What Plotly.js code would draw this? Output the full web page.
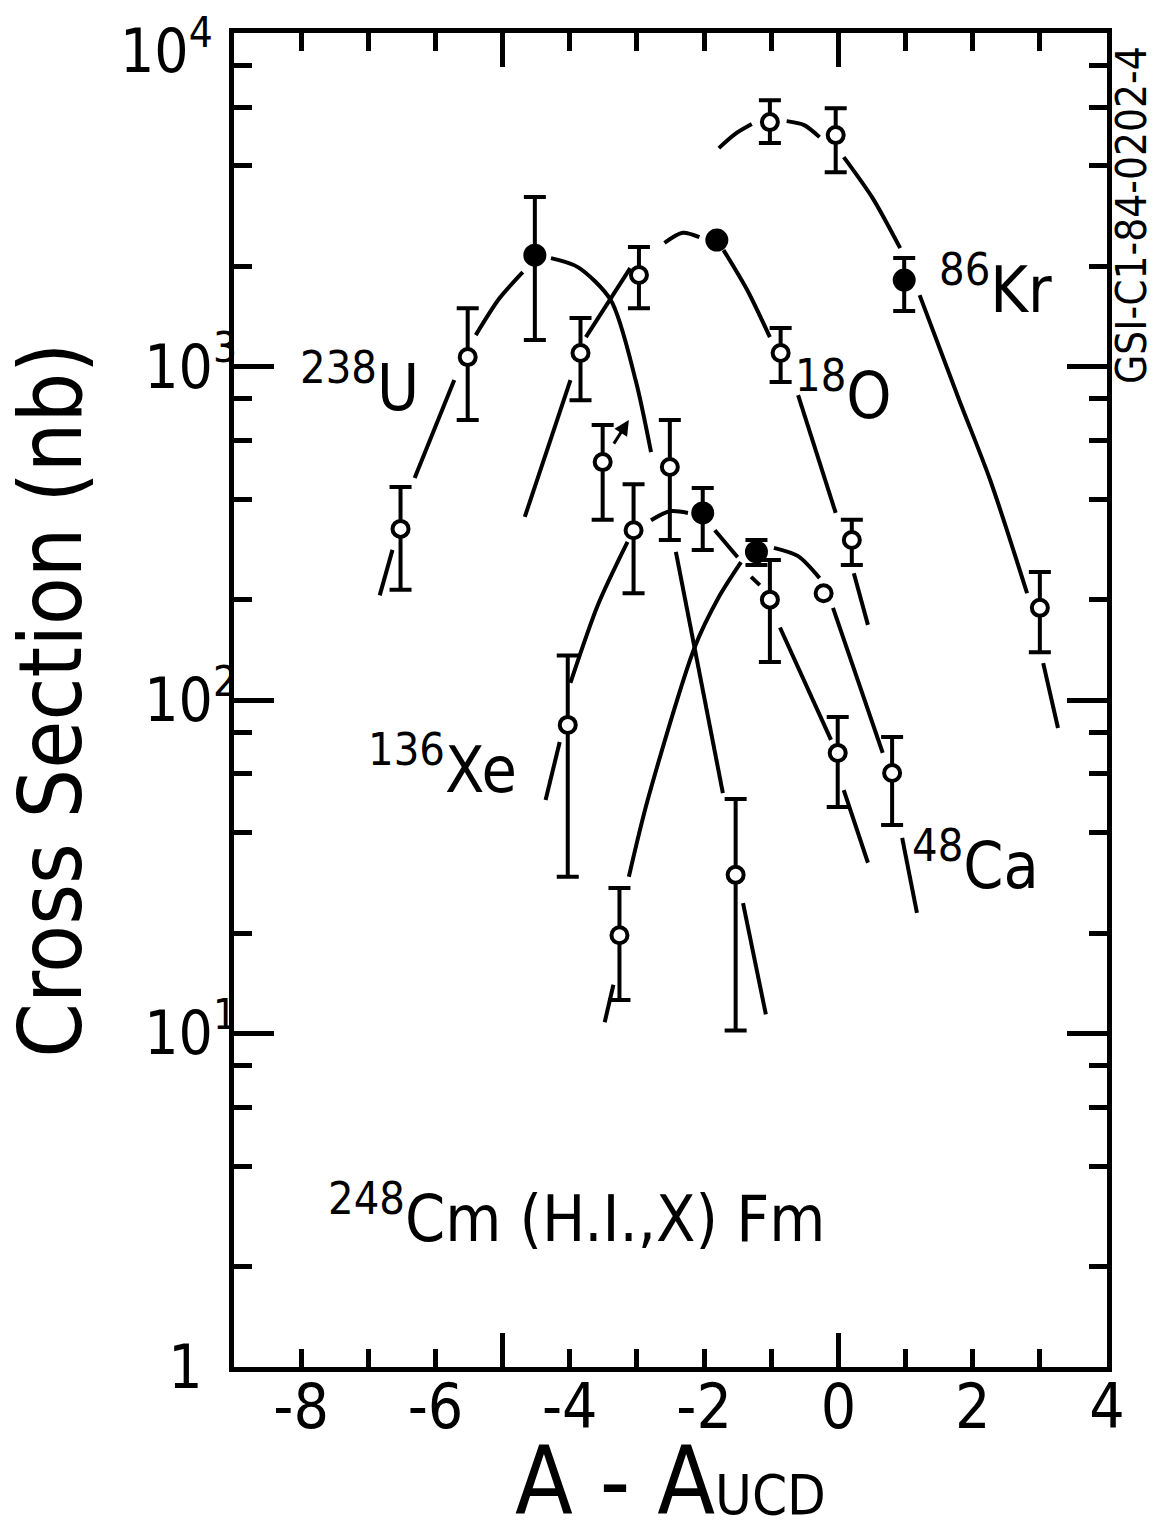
<!DOCTYPE html>
<html>
<head>
<meta charset="utf-8">
<script src="https://cdn.plot.ly/plotly-3.0.1.min.js"></script>
<style>html,body{margin:0;padding:0;background:#fff;}#chart{width:1161px;height:1536px;}</style>
</head>
<body>
<div id="chart"></div>
<script>
// ---------- data ----------
// axis ticks and tick labels
const xTickVals = [-8, -6, -4, -2, 0, 2, 4];
const xTickText = ['-8', '-6', '-4', '-2', '0', '2', '4'];
const xMinorTicks = [-7, -5, -3, -1, 1, 3];
const xLongTicks = [-5, 0];
const yTickVals = [1, 10, 100, 1000];
const yTickText = ['1\u2007', '10<sup>1</sup>', '10<sup>2</sup>', '10<sup>3</sup>'];
const yTopTickVal = 10000;
const yTopTickText = '10<sup>4</sup>';
const yMinorTicks = [2, 4, 6, 8, 20, 40, 60, 80, 200, 400, 600, 800, 2000, 4000, 6000, 8000];

// 238U
const u238X = [-6.52, -5.52, -4.52, -3.51, -2.51, -1.53];
const u238Y = [326, 1068, 2159, 517, 500, 29.9];
const u238Hi = [435, 1497, 3223, 668, 691, 50.5];
const u238Lo = [214, 691, 1201, 347, 302, 10.2];
const u238Solid = [0, 0, 1, 0, 0, 0];
const u238CurveX = [-6.83, -6.64, null, -6.31, -5.72, null, -5.40, -5.05, -4.70, null, -4.28, -3.88, -3.39, -3.02, -2.79, null, -2.42, -1.72, null, -1.42, -1.08];
const u238CurveY = [206, 282, null, 463, 911, null, 1243, 1600, 1920, null, 2115, 1988, 1583, 911, 554, null, 278, 52.6, null, 24.6, 11.4];

// 18O
const o18X = [-3.84, -2.97, -1.81, -0.86, 0.20];
const o18Y = [1098, 1882, 2395, 1098, 302];
const o18Hi = [1398, 2282, null, 1305, 347];
const o18Lo = [793, 1497, null, 899, 254];
const o18Solid = [0, 0, 1, 0, 0];
const o18CurveX = [-4.67, -3.99, null, -3.76, -3.10, null, -2.59, -2.32, -2.07, null, -1.71, -1.36, -1.02, null, -0.60, -0.04, null, 0.23, 0.44];
const o18CurveY = [354, 911, null, 1226, 1974, null, 2350, 2520, 2445, null, 2235, 1700, 1226, null, 821, 364, null, 240, 168];

// 86Kr
const kr86X = [-1.02, -0.04, 0.98, 3.00];
const kr86Y = [5410, 4946, 1817, 189];
const kr86Hi = [6297, 5959, 2115, 242];
const kr86Lo = [4680, 3830, 1467, 139];
const kr86Solid = [0, 0, 1, 0];
const kr86CurveX = [-1.78, -1.54, -1.29, null, -0.77, -0.51, -0.28, null, 0.08, 0.51, 0.92, null, 1.21, 1.80, 2.26, 2.81, null, 3.05, 3.27];
const kr86CurveY = [4521, 4980, 5336, null, 5447, 5300, 4878, null, 4248, 3201, 2266, null, 1638, 793, 457, 209, null, 129, 82.4];

// 136Xe
const xe136X = [-4.03, -3.05, -2.02, -1.02, -0.01];
const xe136Y = [84.2, 323, 364, 200, 69.4];
const xe136Hi = [136, 444, 432, 263, 88.9];
const xe136Lo = [29.5, 209, 282, 130, 47.8];
const xe136Solid = [0, 0, 1, 0, 0];
const xe136CurveX = [-4.36, -4.15, null, -3.99, -3.58, -3.14, null, -2.79, -2.51, -2.24, null, -1.84, -1.50, null, -1.30, -1.17, null, -0.87, -0.11, null, 0.08, 0.44];
const xe136CurveY = [50.1, 74.8, null, 112.5, 193, 298, null, 346, 368, 364, null, 323, 268, null, 234, 221, null, 165, 75.9, null, 53.7, 32.5];

// 48Ca
const ca48X = [-3.26, -1.22, -0.22, 0.80];
const ca48Y = [19.7, 278, 209, 60.4];
const ca48Hi = [27.3, 302, null, 77.5];
const ca48Lo = [12.6, 254, null, 42.2];
const ca48Solid = [0, 1, 0, 0];
const ca48CurveX = [-3.48, -3.35, null, -3.12, -2.84, -2.14, -1.79, -1.45, null, -0.96, -0.60, -0.28, null, -0.08, 0.66, null, 0.95, 1.17];
const ca48CurveY = [10.8, 14.0, null, 29.5, 50.1, 144, 202, 259, null, 286, 270, 232, null, 189, 69.4, null, 38.6, 23.0];

// ---------- build ----------
const FONT = 'DejaVu Sans Condensed, DejaVu Sans, sans-serif';
const INK = '#000';

function curve(x, y) {
  return {x: x, y: y, type: 'scatter', mode: 'lines', connectgaps: false,
          line: {color: INK, width: 4, shape: 'spline', smoothing: 0.8},
          hoverinfo: 'skip', showlegend: false};
}
function points(x, y, hi, lo, solid) {
  const up = y.map((v, i) => hi[i] == null ? NaN : hi[i] - v);
  const dn = y.map((v, i) => lo[i] == null ? NaN : v - lo[i]);
  return {x: x, y: y, type: 'scatter', mode: 'markers', showlegend: false,
          marker: {symbol: 'circle', opacity: 1,
                   size: solid.map(s => s ? 19 : 16),
                   color: solid.map(s => s ? INK : '#fff'),
                   line: {color: INK, width: 4}},
          error_y: {type: 'data', symmetric: false, array: up, arrayminus: dn,
                    color: INK, thickness: 4, width: 11}};
}

const data = [
  curve(u238CurveX, u238CurveY),
  curve(o18CurveX, o18CurveY),
  curve(kr86CurveX, kr86CurveY),
  curve(xe136CurveX, xe136CurveY),
  curve(ca48CurveX, ca48CurveY),
  points(u238X, u238Y, u238Hi, u238Lo, u238Solid),
  points(o18X, o18Y, o18Hi, o18Lo, o18Solid),
  points(kr86X, kr86Y, kr86Hi, kr86Lo, kr86Solid),
  points(xe136X, xe136Y, xe136Hi, xe136Lo, xe136Solid),
  points(ca48X, ca48Y, ca48Hi, ca48Lo, ca48Solid),
  {x: [], y: [], xaxis: 'x2', yaxis: 'y', type: 'scatter', mode: 'markers', showlegend: false}
];

const labelFont = {family: FONT, size: 64, color: INK};
function label(text, x, y) {
  return {text: text, xref: 'paper', yref: 'paper', x: x, y: y,
          xanchor: 'center', yanchor: 'middle', showarrow: false, font: labelFont};
}

const layout = {
  width: 1161, height: 1536,
  paper_bgcolor: '#fff', plot_bgcolor: '#fff',
  margin: {l: 234, r: 54, t: 33, b: 169},
  font: {family: FONT, color: INK},
  showlegend: false,
  xaxis: {
    range: [-9, 4], showgrid: false, zeroline: false,
    showline: true, linecolor: INK, linewidth: 5, mirror: 'ticks',
    ticks: 'inside', ticklen: 18, tickwidth: 5, tickcolor: INK,
    tickmode: 'array', tickvals: xTickVals, ticktext: xTickText,
    ticklabelstandoff: -18,
    tickfont: {family: FONT, size: 62, color: INK},
    minor: {tickmode: 'array', tickvals: xMinorTicks, ticks: 'inside', ticklen: 18, tickwidth: 5, tickcolor: INK, showgrid: false},
    title: {text: 'A - A<span style="font-size:56px">UCD</span>\u00a0\u00a0', font: {family: FONT, size: 94, color: INK}, standoff: 26}
  },
  xaxis2: {
    overlaying: 'x', anchor: 'y', side: 'bottom', range: [-9, 4],
    showgrid: false, zeroline: false, showline: false, mirror: 'ticks',
    ticks: 'inside', ticklen: 34, tickwidth: 5, tickcolor: INK,
    tickmode: 'array', tickvals: xLongTicks, showticklabels: false
  },
  yaxis: {
    type: 'log', range: [-0.0005, 4.0005], showgrid: false, zeroline: false,
    showline: true, linecolor: INK, linewidth: 5, mirror: 'ticks',
    ticks: 'inside', ticklen: 40, tickwidth: 5, tickcolor: INK,
    tickmode: 'array', tickvals: yTickVals.concat([yTopTickVal]), ticktext: yTickText.concat(['']),
    ticklabelstandoff: -20, ticklabeloverflow: 'allow',
    tickfont: {family: FONT, size: 60, color: INK},
    minor: {tickmode: 'array', tickvals: yMinorTicks, ticks: 'inside', ticklen: 18, tickwidth: 5, tickcolor: INK, showgrid: false},
    title: {text: 'Cross Section (nb)', font: {family: FONT, size: 87, color: INK}, standoff: 36}
  },
  annotations: [
    {text: yTopTickText, xref: 'paper', yref: 'paper', x: -0.022, y: 0.9895,
     xanchor: 'right', yanchor: 'middle', showarrow: false,
     font: {family: FONT, size: 60, color: INK}},
    label('<sup>238</sup>U', 0.144, 0.738),
    label('<sup>18</sup>O', 0.698, 0.732),
    label('<sup>86</sup>Kr', 0.872, 0.811),
    label('<sup>136</sup>Xe', 0.239, 0.451),
    label('<sup>48</sup>Ca', 0.849, 0.379),
    label('<sup>248</sup>Cm (H.I.,X) Fm', 0.392, 0.115),
    {text: 'GSI-C1-84-0202-4', xref: 'paper', yref: 'paper', x: 1.0286, y: 0.8636,
     xanchor: 'center', yanchor: 'middle', textangle: -90, showarrow: false, borderpad: 0,
     font: {family: FONT, size: 42, color: INK}},
    {text: '', xref: 'x', yref: 'y', x: -3.12, y: Math.log10(691), ax: -16, ay: 25,
     showarrow: true, arrowhead: 2, arrowsize: 1, arrowwidth: 3, arrowcolor: INK, standoff: 0}
  ]
};

Plotly.newPlot('chart', data, layout, {staticPlot: true, displayModeBar: false});
</script>
</body>
</html>
